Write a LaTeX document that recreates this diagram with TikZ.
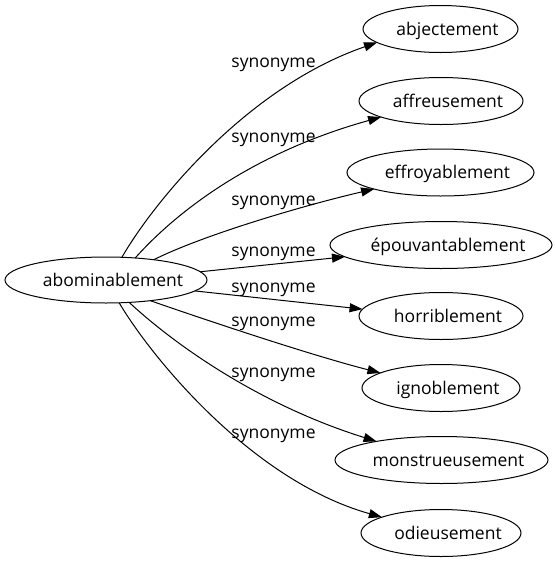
\documentclass[tikz,border=0pt]{standalone}
\usepackage{fontspec}
\setmainfont{Open Sans}
\usetikzlibrary{shapes.geometric,arrows.meta}
\tikzset{
  word/.style={draw, ellipse, inner sep=0pt, outer sep=0pt, line width=1pt, minimum height=47pt},
  wtext/.style={anchor=base, inner sep=0pt, font=\fontsize{17.5}{20}\selectfont},
  lab/.style={anchor=base, inner sep=0pt, font=\fontsize{17.5}{20}\selectfont},
  rel/.style={draw, line width=1pt, -{Triangle[length=13pt,width=9pt]}}
}
\begin{document}
\begin{tikzpicture}[x=1pt,y=-1pt]
\useasboundingbox[fill=white] (0,0) rectangle (556,563);
% nodes
\node[word, minimum width=202pt, minimum height=46pt] (a) at (106,280) {};
\node[wtext] (ta) at (113,286) {abominablement};
\node[word, minimum width=155pt] (w1) at (440.5,29) {};
\node[wtext] (t1) at (447.5,35) {abjectement};
\node[word, minimum width=164pt] (w2) at (441,101) {};
\node[wtext] (t2) at (448,107) {affreusement};
\node[word, minimum width=187pt] (w3) at (440.5,172.5) {};
\node[wtext] (t3) at (447.5,178.5) {effroyablement};
\node[word, minimum width=222pt] (w4) at (441,245) {};
\node[wtext] (t4) at (448,251) {épouvantablement};
\node[word, minimum width=164pt] (w5) at (441,316) {};
\node[wtext] (t5) at (448,322) {horriblement};
\node[word, minimum width=158pt] (w6) at (441,388) {};
\node[wtext] (t6) at (448,394) {ignoblement};
\node[word, minimum width=213pt] (w7) at (441.5,460) {};
\node[wtext] (t7) at (448.5,466) {monstrueusement};
\node[word, minimum width=160pt] (w8) at (441,533) {};
\node[wtext] (t8) at (448,539) {odieusement};
% edges
\draw[rel] (a.55.7) .. controls (152,205) and (245,88) .. (w1.192.9);
\draw[rel] (a.37.6) .. controls (178,210) and (255,152) .. (w2.195.2);
\draw[rel] (a.23) .. controls (203,235) and (305,205) .. (w3.194.5);
\draw[rel] (a.5.5) -- (w4.187);
\draw[rel] (a.-7.4) -- (w5.175.7);
\draw[rel] (a.-25) .. controls (200,318) and (310,355) .. (w6.166.4);
\draw[rel] (a.-44) .. controls (175,345) and (260,405) .. (w7.164.6);
\draw[rel] (a.-60.7) .. controls (150,355) and (250,480) .. (w8.165.7);
% labels
\node[lab] (l1) at (273.5,67) {synonyme};
\node[lab] (l2) at (273.5,142) {synonyme};
\node[lab] (l3) at (273.5,205) {synonyme};
\node[lab] (l4) at (273.5,256) {synonyme};
\node[lab] (l5) at (273.5,292) {synonyme};
\node[lab] (l6) at (273.5,326) {synonyme};
\node[lab] (l7) at (273.5,377) {synonyme};
\node[lab] (l8) at (273.5,438) {synonyme};
\end{tikzpicture}
\end{document}
